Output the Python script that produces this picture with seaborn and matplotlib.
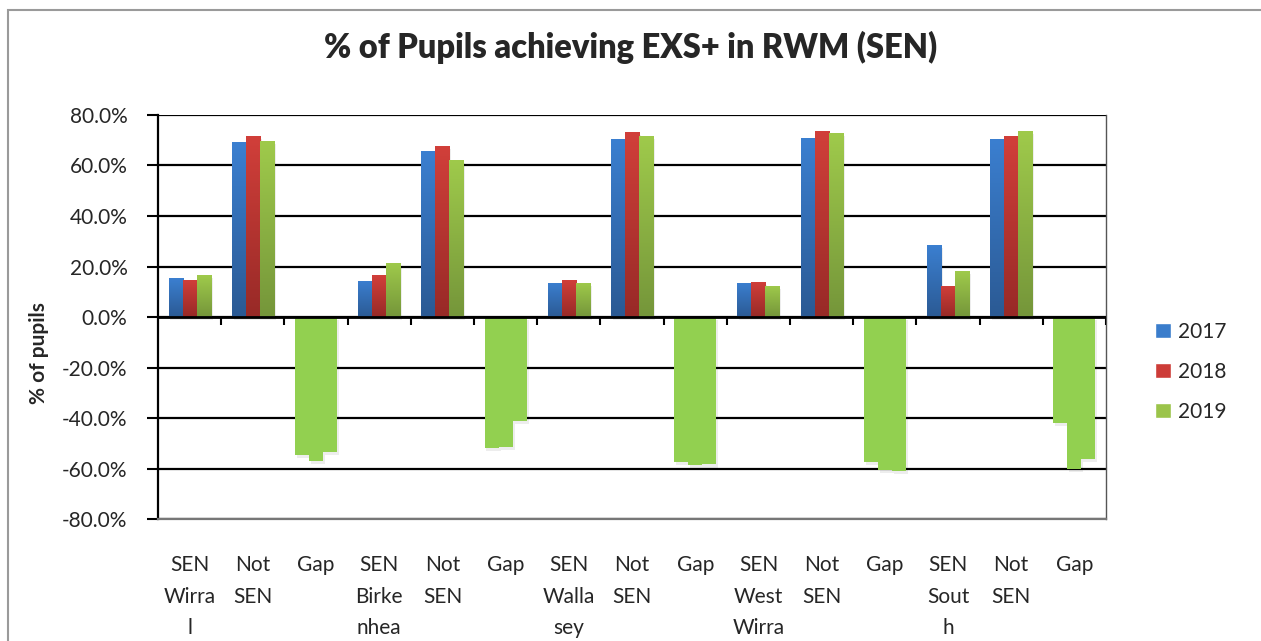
import numpy as np
import pandas as pd
import seaborn as sns
import matplotlib.pyplot as plt
from matplotlib.colors import LinearSegmentedColormap
from matplotlib.patches import Patch, Rectangle

# values (percent)
labels = ['SEN\nWirra\nl', 'Not\nSEN', 'Gap',
          'SEN\nBirke\nnhea', 'Not\nSEN', 'Gap',
          'SEN\nWalla\nsey', 'Not\nSEN', 'Gap',
          'SEN\nWest\nWirra', 'Not\nSEN', 'Gap',
          'SEN\nSout\nh', 'Not\nSEN', 'Gap']
years = ['2017', '2018', '2019']
v2017 = [15.3, 69.3, -54.6, 14.3, 65.7, -52.0, 13.5, 70.5, -57.6, 13.5, 70.9, -57.6, 28.5, 70.5, -42.1]
v2018 = [14.7, 71.7, -57.2, 16.6, 67.7, -51.6, 14.7, 73.3, -58.8, 13.9, 73.7, -60.4, 12.3, 71.7, -60.1]
v2019 = [16.6, 69.7, -53.6, 21.4, 62.2, -41.3, 13.5, 71.7, -58.4, 12.3, 72.9, -60.9, 18.2, 73.7, -56.1]

keys = ['c%d' % i for i in range(len(labels))]
df = pd.DataFrame({'key': keys * 3,
                   'year': np.repeat(years, len(keys)),
                   'pct': v2017 + v2018 + v2019})

sns.set_style('white')
plt.rcParams['font.family'] = ['Lato', 'DejaVu Sans']

fig = plt.figure(figsize=(12.61, 6.41), dpi=100)
ax = fig.add_axes([0.1253, 0.1903, 0.7518, 0.6303])

flat = {'2017': '#3a7dcc', '2018': '#cd3c38', '2019': '#9bc44a'}
grad = {'2017': ('#3b7fd0', '#2b5a94'),
        '2018': ('#d13f3a', '#982a27'),
        '2019': ('#9fca4b', '#75963a')}
gap_green = '#92d050'

sns.barplot(data=df, x='key', y='pct', hue='year', order=keys, hue_order=years,
            palette=flat, width=0.665, saturation=1, legend=False, ax=ax,
            errorbar=None, edgecolor='none', linewidth=0)

# excel-ish vertical gradient on the bars, gap bars flat green
for yr, cont in zip(years, ax.containers):
    cmap = LinearSegmentedColormap.from_list(yr, [grad[yr][1], grad[yr][0]])
    for lab, bar in zip(labels, cont):
        bar.set_zorder(3)
        # soft drop shadow
        sh = Rectangle((bar.get_x() + 0.03, bar.get_y() - 1.2), bar.get_width(), bar.get_height(),
                       facecolor='#000000', alpha=0.07, lw=0, zorder=2.5)
        ax.add_patch(sh)
        if lab == 'Gap':
            bar.set_facecolor(gap_green)
            continue
        x0, y0 = bar.get_x(), bar.get_y()
        w, h = bar.get_width(), bar.get_height()
        g = np.linspace(0, 1, 64).reshape(-1, 1)
        im = ax.imshow(g, cmap=cmap, origin='lower', aspect='auto',
                       extent=[x0, x0 + w, y0, y0 + h], zorder=3.5)
        im.set_clip_path(bar)

ax.set_xlim(-0.5, len(labels) - 0.5)
ax.set_ylim(-80, 80)
ax.set_yticks(np.arange(-80, 81, 20))
ax.set_yticklabels(['%.1f%%' % t for t in np.arange(-80, 81, 20)], fontsize=15)
ax.set_xticks(range(len(labels)))
ax.set_xticklabels(labels, fontsize=15, linespacing=1.72, va='top')
ax.tick_params(axis='x', length=0, pad=26)
ax.tick_params(axis='y', length=8, width=1.5, color='black', pad=14, left=True)

ax.set_axisbelow(True)
ax.yaxis.grid(True, color='black', lw=1.6)
ax.axhline(0, color='black', lw=2, zorder=4)
# category boundary ticks on the zero line
ax.vlines(np.arange(1, len(labels) + 1) - 0.5, -3.2, 0, color='black', lw=1.5, zorder=4)

ax.spines['top'].set_visible(False)
ax.spines['left'].set_color('black')
ax.spines['left'].set_linewidth(1.6)
ax.spines['right'].set_color('#555555')
ax.spines['right'].set_linewidth(1.0)
ax.spines['bottom'].set_color('#777777')
ax.spines['bottom'].set_linewidth(1.6)

ax.set_xlabel('')
ax.set_ylabel('% of pupils', fontsize=15, fontweight='bold')
ax.yaxis.set_label_coords(-0.115, 0.41)

fig.suptitle('% of Pupils achieving EXS+ in RWM (SEN)', fontsize=23.5,
             fontweight='heavy', x=0.5, y=0.952)

handles = [Patch(facecolor=flat[y]) for y in years]
fig.legend(handles, years, loc='center left', bbox_to_anchor=(0.9095, 0.42),
           frameon=False, fontsize=15, handlelength=0.75, handleheight=0.75,
           handletextpad=0.35, labelspacing=0.95, borderaxespad=0)

# chart area border
fig.patches.append(Rectangle((0.0063, -0.1), 1.2, 1.0844, transform=fig.transFigure,
                             fill=False, edgecolor='#9a9a9a', lw=1.5))

fig.savefig('out.png', dpi=100)
